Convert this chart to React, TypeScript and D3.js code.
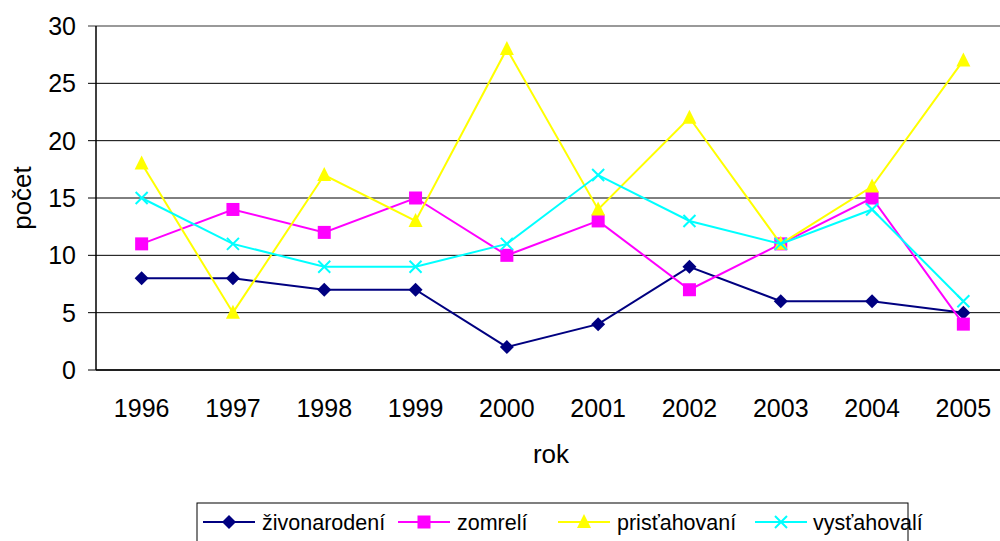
import React from 'react';
import * as d3 from 'd3';

const years = ['1996', '1997', '1998', '1999', '2000', '2001', '2002', '2003', '2004', '2005'];
const zivonarodeni = [8, 8, 7, 7, 2, 4, 9, 6, 6, 5];
const zomreli = [11, 14, 12, 15, 10, 13, 7, 11, 15, 4];
const pristahovani = [18, 5, 17, 13, 28, 14, 22, 11, 16, 27];
const vystahovali = [15, 11, 9, 9, 11, 17, 13, 11, 14, 6];
const yTicks = [0, 5, 10, 15, 20, 25, 30];

const series = [
  { name: 'živonarodení', values: zivonarodeni, color: '#000080', marker: 'diamond' },
  { name: 'zomrelí', values: zomreli, color: '#FF00FF', marker: 'square' },
  { name: 'prisťahovaní', values: pristahovani, color: '#FFFF00', marker: 'triangle' },
  { name: 'vysťahovalí', values: vystahovali, color: '#00FFFF', marker: 'x' },
];

const W = 1000;
const H = 541;
const font = 'Arial, "Liberation Sans", sans-serif';

function Marker({ type, x, y, color }: { type: string; x: number; y: number; color: string }) {
  if (type === 'diamond') {
    const s = 7;
    return <path d={`M${x},${y - s}L${x + s},${y}L${x},${y + s}L${x - s},${y}Z`} fill={color} />;
  }
  if (type === 'square') {
    const s = 6.5;
    return <rect x={x - s} y={y - s} width={s * 2} height={s * 2} fill={color} />;
  }
  if (type === 'triangle') {
    return <path d={`M${x},${y - 8}L${x + 7},${y + 6}L${x - 7},${y + 6}Z`} fill={color} />;
  }
  const s = 6;
  return (
    <path d={`M${x - s},${y - s}L${x + s},${y + s}M${x + s},${y - s}L${x - s},${y + s}`}
      stroke={color} strokeWidth={2} fill="none" />
  );
}

export default function App() {
  const x = d3.scaleBand().domain(years).range([96, 1009]);
  const y = d3.scaleLinear().domain([0, 30]).range([370, 26]);
  const cx = (d: string) => (x(d) ?? 0) + x.bandwidth() / 2;

  const line = d3.line<number>()
    .x((_, i) => cx(years[i]))
    .y(d => y(d));

  const legendItems = [
    { x: 203, tx: 262 },
    { x: 398, tx: 457 },
    { x: 558, tx: 617 },
    { x: 755, tx: 813 },
  ];

  return (
    <svg width={W} height={H} style={{ position: 'absolute', left: 0, top: 0 }} fontFamily={font}>
      <rect width={W} height={H} fill="#fff" />
      {/* grid */}
      {yTicks.map(t => (
        <line key={t} x1={88} x2={W} y1={y(t)} y2={y(t)}
          stroke={t === 30 ? '#999' : '#000'} strokeWidth={t === 30 ? 2 : 1} />
      ))}
      <line x1={96} x2={96} y1={y(30)} y2={y(0)} stroke="#000" strokeWidth={1.5} />
      <line x1={96} x2={W} y1={y(0)} y2={y(0)} stroke="#000" strokeWidth={1.5} />
      {yTicks.map(t => (
        <text key={t} x={76} y={y(t) + 9} textAnchor="end" fontSize={25}>{t}</text>
      ))}
      {years.map(yr => (
        <text key={yr} x={cx(yr)} y={417} textAnchor="middle" fontSize={25}>{yr}</text>
      ))}
      <text x={551} y={463} textAnchor="middle" fontSize={26}>rok</text>
      <text transform="translate(31,198) rotate(-90)" textAnchor="middle" fontSize={26}>počet</text>

      {series.map(s => (
        <g key={s.name}>
          <path d={line(s.values) ?? ''} fill="none" stroke={s.color} strokeWidth={2} />
          {s.values.map((v, i) => (
            <Marker key={i} type={s.marker} x={cx(years[i])} y={y(v)} color={s.color} />
          ))}
        </g>
      ))}

      {/* legend */}
      <rect x={197} y={503} width={711} height={45} fill="#fff" stroke="#000" strokeWidth={1} />
      {series.map((s, i) => (
        <g key={s.name}>
          <line x1={legendItems[i].x} x2={legendItems[i].x + 52} y1={522} y2={522} stroke={s.color} strokeWidth={2} />
          <Marker type={s.marker} x={legendItems[i].x + 26} y={522} color={s.color} />
          <text x={legendItems[i].tx} y={530} fontSize={21.5}>{s.name}</text>
        </g>
      ))}
    </svg>
  );
}
